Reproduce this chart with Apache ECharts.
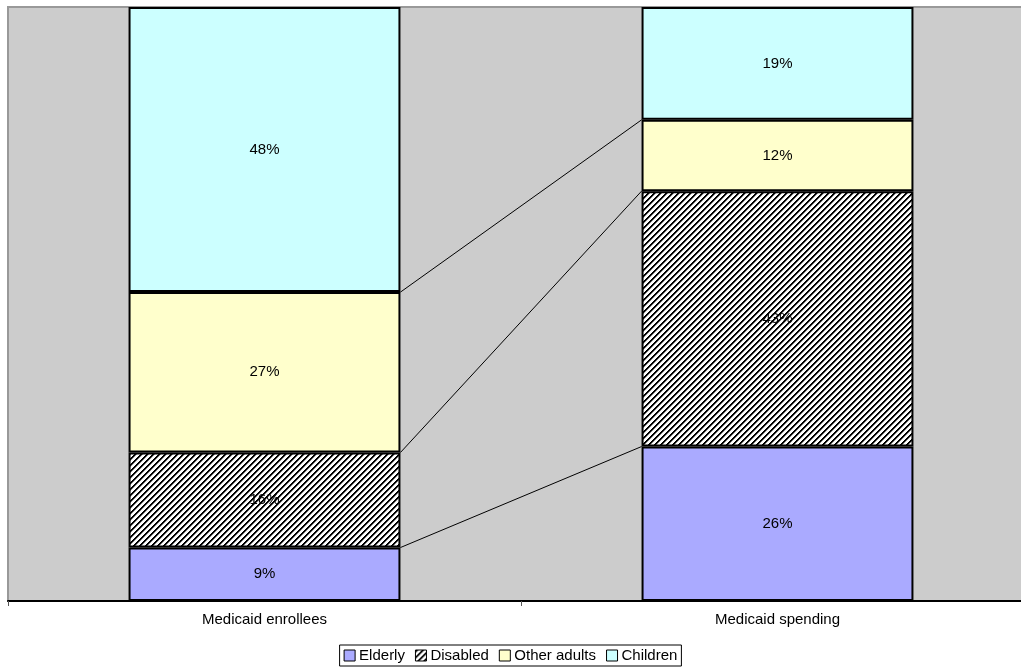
<!DOCTYPE html>
<html>
<head>
<meta charset="utf-8">
<script src="https://cdn.jsdelivr.net/npm/echarts@6/dist/echarts.min.js"></script>
<style>
  html, body { margin: 0; padding: 0; background: #ffffff; }
  #chart { width: 1021px; height: 669px; }
</style>
</head>
<body>
<div id="chart"></div>
<script>
// Share of Medicaid enrollees vs. share of Medicaid spending, by group (percent)
const categories = ['Medicaid enrollees', 'Medicaid spending'];
const groups = ['Elderly', 'Disabled', 'Other adults', 'Children'];
const elderly = [9, 26];
const disabled = [16, 43];
const otherAdults = [27, 12];
const children = [48, 19];

const seriesValues = [elderly, disabled, otherAdults, children];

// Wide upward diagonal hatch used for the Disabled segment
function makeHatch() {
  const c = document.createElement('canvas');
  const n = 6;
  c.width = n; c.height = n;
  const ctx = c.getContext('2d');
  ctx.fillStyle = '#ffffff';
  ctx.fillRect(0, 0, n, n);
  for (let y = 0; y < n; y++) {
    for (let x = 0; x < n; x++) {
      const k = (x + y) % n;
      if (k === 0 || k === 1) { ctx.fillStyle = '#000000'; ctx.fillRect(x, y, 1, 1); }
      else if (k === 2) { ctx.fillStyle = '#888888'; ctx.fillRect(x, y, 1, 1); }
    }
  }
  return c;
}

const colors = [
  '#aaaaff',
  { image: makeHatch(), repeat: 'repeat' },
  '#ffffcc',
  '#ccffff'
];

const BAR_FRACTION = 0.53;
const FONT = 'Liberation Sans, Arial, sans-serif';

// Running totals at the top of each segment (except the last), used for the connector lines
const connectors = [];
for (let s = 0; s < seriesValues.length - 1; s++) {
  const row = [];
  for (let c = 0; c < categories.length; c++) {
    let sum = 0;
    for (let k = 0; k <= s; k++) sum += seriesValues[k][c];
    row.push(sum);
  }
  connectors.push(row);
}

const barSeries = groups.map((name, i) => ({
  name: name,
  type: 'bar',
  stack: 'total',
  barWidth: (BAR_FRACTION * 100) + '%',
  data: seriesValues[i],
  itemStyle: { color: colors[i], borderColor: '#000000', borderWidth: 2 },
  label: {
    show: true,
    position: 'inside',
    formatter: '{c}%',
    color: '#000000',
    fontFamily: FONT,
    fontSize: 15
  },
  emphasis: { disabled: true },
  z: 2
}));

const lineSeries = {
  type: 'custom',
  name: 'connectors',
  data: connectors,
  silent: true,
  z: 3,
  renderItem: function (params, api) {
    const v0 = api.value(0);
    const v1 = api.value(1);
    const half = api.size([1, 0])[0] * BAR_FRACTION / 2;
    const p0 = api.coord([0, v0]);
    const p1 = api.coord([1, v1]);
    return {
      type: 'line',
      shape: { x1: p0[0] + half, y1: p0[1], x2: p1[0] - half, y2: p1[1] },
      style: { stroke: '#000000', lineWidth: 1 }
    };
  },
  encode: { x: -1, y: -1 }
};

const chart = echarts.init(document.getElementById('chart'), null, { renderer: 'canvas' });
chart.setOption({
  animation: false,
  backgroundColor: '#ffffff',
  color: colors,
  grid: {
    left: 8, top: 7, width: 1026, bottom: 68,
    outerBoundsMode: 'none',
    containLabel: false,
    show: true,
    backgroundColor: '#cccccc',
    borderColor: '#999999',
    borderWidth: 2
  },
  legend: {
    data: groups,
    bottom: 3,
    left: 'center',
    itemWidth: 11,
    itemHeight: 11,
    itemGap: 10,
    padding: [3, 4, 3, 4],
    borderColor: '#000000',
    borderWidth: 1,
    borderRadius: 0,
    icon: 'rect',
    itemStyle: { borderColor: '#000000', borderWidth: 1 },
    textStyle: {
      color: '#000000',
      fontFamily: FONT,
      fontSize: 15,
      padding: [0, 0, 0, -1]
    }
  },
  xAxis: {
    type: 'category',
    data: categories,
    boundaryGap: true,
    axisLine: { show: true, lineStyle: { color: '#000000', width: 2 } },
    axisTick: { show: true, length: 5, lineStyle: { color: '#555555', width: 1 } },
    axisLabel: {
      color: '#000000',
      fontFamily: FONT,
      fontSize: 15,
      margin: 11
    }
  },
  yAxis: {
    type: 'value',
    min: 0,
    max: 100,
    show: false,
    splitLine: { show: false }
  },
  series: barSeries.concat([lineSeries])
});
</script>
</body>
</html>
